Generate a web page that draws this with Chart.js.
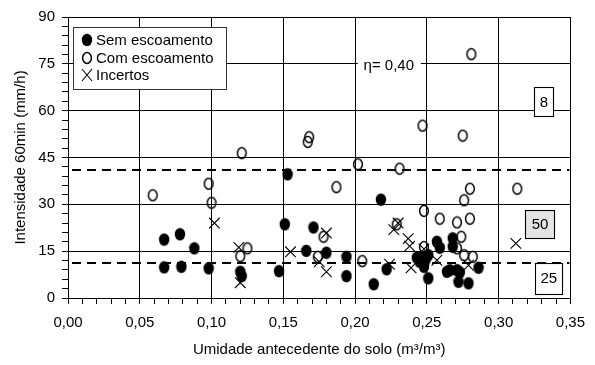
<!DOCTYPE html>
<html>
<head>
<meta charset="utf-8">
<script src="https://cdn.jsdelivr.net/npm/chart.js@4"></script>
<style>
  body { margin: 0; background: #fff; }
</style>
</head>
<body>
<canvas id="rainChart" width="595" height="365"></canvas>
<script>
// eventos sem escoamento: umidade (m3/m3) e intensidade (mm/h)
const semX = [0.067, 0.078, 0.088, 0.067, 0.079, 0.098, 0.120, 0.121, 0.147, 0.153,
              0.151, 0.171, 0.166, 0.180, 0.194, 0.194, 0.213, 0.218, 0.222, 0.243,
              0.247, 0.249, 0.245, 0.251, 0.248, 0.251, 0.257, 0.259, 0.268, 0.268,
              0.264, 0.266, 0.271, 0.273, 0.286, 0.272, 0.279];
const semY = [18.7, 20.4, 15.9, 9.8, 10.0, 9.5, 8.4, 7.0, 8.6, 39.6,
              23.6, 22.6, 15.1, 14.5, 13.2, 7.0, 4.4, 31.5, 9.2, 12.9,
              13.2, 12.1, 11.6, 13.7, 10.0, 6.3, 18.0, 16.1, 19.1, 16.4,
              8.4, 8.9, 8.9, 8.2, 9.7, 5.2, 4.7];

// eventos com escoamento
const comX = [0.059, 0.098, 0.100, 0.121, 0.125, 0.120, 0.168, 0.167, 0.174, 0.178,
              0.187, 0.202, 0.205, 0.229, 0.231, 0.247, 0.248, 0.248, 0.259, 0.271,
              0.274, 0.271, 0.276, 0.275, 0.280, 0.280, 0.281, 0.276, 0.282, 0.313];
const comY = [32.9, 36.6, 30.5, 46.4, 15.9, 13.4, 51.5, 50.0, 13.2, 19.6,
              35.5, 42.8, 11.8, 23.6, 41.4, 55.2, 27.9, 16.3, 25.4, 24.2,
              19.6, 15.9, 31.3, 52.0, 35.0, 25.4, 78.1, 13.7, 13.2, 35.0];

// eventos incertos
const incX = [0.102, 0.119, 0.120, 0.155, 0.180, 0.175, 0.180, 0.224, 0.227, 0.230,
              0.237, 0.238, 0.239, 0.248, 0.257, 0.279, 0.312];
const incY = [24.0, 16.2, 4.9, 14.8, 20.8, 11.6, 8.4, 10.8, 21.9, 24.0,
              19.0, 16.6, 9.7, 15.7, 12.1, 10.5, 17.5];

// limites de intensidade (linhas tracejadas)
const limiares = [41, 11.3];
const etaTexto = 'η= 0,40';
const caixaTextos = ['8', '50', '25'];
const legendaTextos = ['Sem escoamento', 'Com escoamento', 'Incertos'];

const FONT = '"Liberation Sans", Arial, sans-serif';
Chart.defaults.font.family = FONT;
Chart.defaults.color = '#000';

function pares(xs, ys) {
  return xs.map((x, i) => ({ x: x, y: ys[i] }));
}

// marcadores levemente ovais
function marcador(cheio) {
  const c = document.createElement('canvas');
  c.width = 12; c.height = 14;
  const g = c.getContext('2d');
  g.beginPath();
  if (cheio) {
    g.ellipse(6, 7, 5.2, 6.2, 0, 0, Math.PI * 2);
    g.fillStyle = '#000';
    g.fill();
  } else {
    g.ellipse(6, 7, 4.4, 5.4, 0, 0, Math.PI * 2);
    g.lineWidth = 1.5;
    g.strokeStyle = '#000';
    g.stroke();
  }
  return c;
}
const bolaCheia = marcador(true);
const bolaVazia = marcador(false);

function desenhaX(ctx, cx, cy) {
  ctx.beginPath();
  ctx.moveTo(cx - 5, cy - 6); ctx.lineTo(cx + 5, cy + 6);
  ctx.moveTo(cx + 5, cy - 6); ctx.lineTo(cx - 5, cy + 6);
  ctx.lineWidth = 1.1;
  ctx.strokeStyle = '#000';
  ctx.stroke();
}

const isMajor = (v, step) => Math.abs(v / step - Math.round(v / step)) < 1e-6;

// caixas de texto, posicao em unidades do grafico
const caixas = [
  { x: 0.3315, y: 62.9, w: 19, h: 29, fill: '#fff' },
  { x: 0.3288, y: 23.6, w: 29, h: 28, fill: '#e4e4e4' },
  { x: 0.3350, y: 6.4,  w: 27, h: 31, fill: '#fff' }
];

const extras = {
  id: 'extras',
  beforeDatasetsDraw(chart) {
    const { ctx, chartArea, scales: { y } } = chart;
    ctx.save();
    ctx.strokeStyle = '#000';
    ctx.lineWidth = 2;
    ctx.setLineDash([9, 6]);
    limiares.forEach(v => {
      const py = Math.round(y.getPixelForValue(v));
      ctx.beginPath();
      ctx.moveTo(chartArea.left + 4, py);
      ctx.lineTo(chartArea.right - 1, py);
      ctx.stroke();
    });
    ctx.restore();
  },
  afterDatasetsDraw(chart) {
    const { ctx, chartArea, scales: { x, y } } = chart;
    ctx.save();
    ctx.font = '15px ' + FONT;
    ctx.textBaseline = 'middle';

    // legenda
    const lx = chartArea.left + 5, ly = chartArea.top + 10;
    ctx.fillStyle = '#fff';
    ctx.fillRect(lx, ly, 153, 62);
    ctx.strokeStyle = '#333';
    ctx.lineWidth = 1;
    ctx.strokeRect(lx + 0.5, ly + 0.5, 153, 62);
    const linhas = [ly + 13, ly + 31, ly + 48];
    ctx.drawImage(bolaCheia, lx + 8, linhas[0] - 7);
    ctx.drawImage(bolaVazia, lx + 8, linhas[1] - 7);
    desenhaX(ctx, lx + 14, linhas[2]);
    ctx.fillStyle = '#000';
    ctx.textAlign = 'left';
    legendaTextos.forEach((t, i) => ctx.fillText(t, lx + 23, linhas[i] + 1));

    // eta
    const ex = x.getPixelForValue(0.2235), ey = y.getPixelForValue(74.3);
    ctx.fillStyle = '#fff';
    ctx.fillRect(ex - 31, ey - 9, 63, 18);
    ctx.fillStyle = '#000';
    ctx.textAlign = 'center';
    ctx.fillText(etaTexto, ex, ey);

    // caixas numeradas
    caixas.forEach((b, i) => {
      const cx = x.getPixelForValue(b.x), cy = y.getPixelForValue(b.y);
      const bx = Math.round(cx - b.w / 2) + 0.5, by = Math.round(cy - b.h / 2) + 0.5;
      ctx.fillStyle = b.fill;
      ctx.fillRect(bx, by, b.w, b.h);
      ctx.strokeStyle = '#000';
      ctx.strokeRect(bx, by, b.w, b.h);
      ctx.fillStyle = '#000';
      ctx.fillText(caixaTextos[i], cx, cy + 1);
    });
    ctx.restore();
  }
};

new Chart(document.getElementById('rainChart'), {
  type: 'scatter',
  data: {
    datasets: [
      { label: legendaTextos[0], data: pares(semX, semY), pointStyle: bolaCheia },
      { label: legendaTextos[1], data: pares(comX, comY), pointStyle: bolaVazia },
      {
        label: legendaTextos[2], data: pares(incX, incY), pointStyle: 'crossRot',
        pointRadius: 7.5, borderColor: '#000', pointBorderWidth: 1.1
      }
    ]
  },
  options: {
    responsive: false,
    animation: false,
    devicePixelRatio: 1,
    layout: { padding: { top: 17, right: 18, left: 0, bottom: 0 } },
    plugins: { legend: { display: false }, tooltip: { enabled: false } },
    scales: {
      x: {
        type: 'linear',
        min: 0, max: 0.35,
        afterFit: s => { s.height = 67; },
        ticks: {
          stepSize: 0.01, autoSkip: false, maxRotation: 0, padding: 10,
          font: { size: 15 },
          callback: v => isMajor(v, 0.05) ? v.toFixed(2).replace('.', ',') : ''
        },
        grid: {
          color: c => isMajor(c.tick.value, 0.05) ? '#000' : 'rgba(0,0,0,0)',
          tickColor: '#000', tickLength: 6, lineWidth: 1
        },
        border: { color: '#000', width: 1 },
        title: {
          display: true, text: 'Umidade antecedente do solo (m³/m³)',
          font: { size: 15 }, padding: { top: 0, bottom: 6 }
        }
      },
      y: {
        min: 0, max: 90,
        afterFit: s => { s.width = 68; },
        ticks: {
          stepSize: 3, autoSkip: false, padding: 7,
          font: { size: 15 },
          callback: v => isMajor(v, 15) ? String(v) : ''
        },
        grid: {
          color: c => isMajor(c.tick.value, 15) ? '#000' : 'rgba(0,0,0,0)',
          tickColor: '#000', tickLength: 6, lineWidth: 1
        },
        border: { color: '#000', width: 1 },
        title: {
          display: true, text: 'Intensidade 60min (mm/h)',
          font: { size: 15 }, padding: { top: 12, bottom: 0 }
        }
      }
    }
  },
  plugins: [extras]
});
</script>
</body>
</html>
